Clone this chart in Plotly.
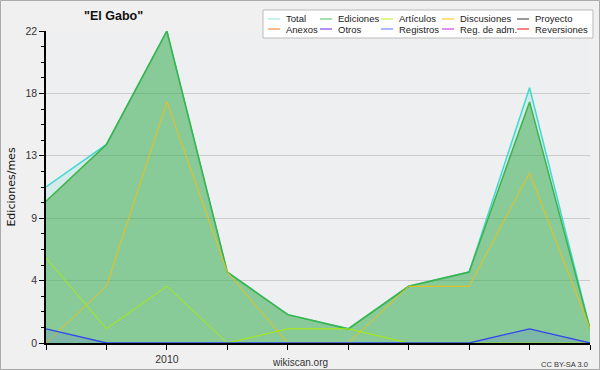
import plotly.graph_objects as go

# ---- data ----
months = ["2009-11", "2009-12", "2010-01", "2010-02", "2010-03",
          "2010-04", "2010-05", "2010-06", "2010-07", "2010-08"]
x_labels = ["", "", "2010", "", "", "", "", "", "", ""]
total = [11, 14, 22, 5, 2, 1, 4, 5, 18, 1]
ediciones = [10, 14, 22, 5, 2, 1, 4, 5, 17, 1]
articulos = [6, 1, 4, 0, 1, 1, 0, 0, 0, 0]
discusiones = [0, 4, 17, 5, 0, 0, 4, 4, 12, 1]
registros = [1, 0, 0, 0, 0, 0, 0, 0, 1, 0]

y_tickvals = [0, 4.4, 8.8, 13.2, 17.6, 22]
y_ticktext = ["0", "4", "9", "13", "18", "22"]

legend_names = ["Total", "Ediciones", "Artículos", "Discusiones", "Proyecto",
                "Anexos", "Otros", "Registros", "Reg. de adm.", "Reversiones"]
legend_colors = ["#a8e8e4", "#66cc77", "#ccee44", "#ffcc33", "#555555",
                 "#ff8844", "#8844ee", "#7788ff", "#cc44ee", "#ee3333"]

W, H = 600, 370
L, R, T, B = 46, 10, 31, 27
pw, ph = W - L - R, H - T - B

def px(x):
    return (x - L) / pw

def py(y):
    return (H - B - y) / ph

xs = list(range(len(months)))

fig = go.Figure()
fig.add_trace(go.Scatter(x=xs, y=total, mode="lines", fill="tozeroy",
                         line=dict(color="#44d8d0", width=1.5),
                         fillcolor="rgba(64,208,200,0.15)", name="Total",
                         showlegend=False))
fig.add_trace(go.Scatter(x=xs, y=ediciones, mode="lines", fill="tozeroy",
                         line=dict(color="#3cb44a", width=1.5),
                         fillcolor="rgba(60,170,70,0.5)", name="Ediciones",
                         showlegend=False))
fig.add_trace(go.Scatter(x=xs, y=discusiones, mode="lines",
                         line=dict(color="#f0c010", width=1),
                         name="Discusiones", showlegend=False))
fig.add_trace(go.Scatter(x=xs, y=articulos, mode="lines",
                         line=dict(color="#aaee00", width=1),
                         name="Artículos", showlegend=False))
fig.add_trace(go.Scatter(x=xs, y=registros, mode="lines", fill="tozeroy",
                         line=dict(color="#3344ee", width=1.3),
                         fillcolor="rgba(60,80,240,0.15)", name="Registros",
                         showlegend=False))

shapes = []
annotations = []

# figure border
shapes.append(dict(type="rect", xref="paper", yref="paper",
                   x0=px(0.5), x1=px(599.5), y0=py(369.5), y1=py(0.5),
                   line=dict(color="#aaaaaa", width=1), layer="below"))

# legend box
shapes.append(dict(type="rect", xref="paper", yref="paper",
                   x0=px(263), x1=px(593), y0=py(38), y1=py(10),
                   line=dict(color="#bbbbbb", width=1), fillcolor="white"))
col_line_x = [268, 320, 381, 442, 517]
row_y = [19, 29]
for i, (name, color) in enumerate(zip(legend_names, legend_colors)):
    r, c = divmod(i, 5)
    x0 = col_line_x[c]
    yy = row_y[r]
    shapes.append(dict(type="line", xref="paper", yref="paper",
                       x0=px(x0), x1=px(x0 + 12), y0=py(yy), y1=py(yy),
                       line=dict(color=color, width=1.2)))
    annotations.append(dict(text=name, xref="paper", yref="paper",
                            x=px(x0 + 16), y=py(yy), xanchor="left",
                            yanchor="middle", showarrow=False,
                            font=dict(family="Liberation Sans", size=9.5,
                                      color="#222222")))

# title
annotations.append(dict(text="<b>\"El Gabo\"</b>", xref="paper", yref="paper",
                        x=px(113), y=py(16), xanchor="center", yanchor="middle",
                        showarrow=False,
                        font=dict(family="Liberation Sans", size=12.5,
                                  color="#111111")))
annotations.append(dict(text="wikiscan.org", xref="paper", yref="paper",
                        x=px(300), y=py(362), xanchor="center", yanchor="middle",
                        showarrow=False,
                        font=dict(family="Liberation Sans", size=10,
                                  color="#333333")))
annotations.append(dict(text="CC BY-SA 3.0", xref="paper", yref="paper",
                        x=px(590), y=py(364), xanchor="right", yanchor="middle",
                        showarrow=False,
                        font=dict(family="Liberation Sans", size=7.5,
                                  color="#333333")))

fig.update_layout(
    width=W, height=H,
    margin=dict(l=L, r=R, t=T, b=B, pad=0, autoexpand=False),
    paper_bgcolor="#f0f0f0",
    plot_bgcolor="#eeeff1",
    showlegend=False,
    shapes=shapes,
    annotations=annotations,
    font=dict(family="Liberation Sans", size=10, color="#333333"),
)
fig.update_xaxes(
    range=[0, len(months) - 1], tickmode="array", tickvals=xs,
    ticktext=x_labels, ticks="outside", ticklen=5, tickcolor="black",
    showline=True, linecolor="black", linewidth=2, showgrid=False,
    zeroline=False, automargin=False, tickfont=dict(size=10.5, color="#333333"),
)
fig.update_yaxes(
    range=[0, 22], tickmode="array", tickvals=y_tickvals, ticktext=y_ticktext,
    ticks="outside", ticklen=5, tickcolor="black",
    showline=True, linecolor="black", linewidth=1.5,
    showgrid=True, gridcolor="#cccccc", gridwidth=1, zeroline=False,
    automargin=False, tickfont=dict(size=10.5, color="#333333"),
    minor=dict(tickmode="linear", tick0=0, dtick=1.1, ticks="outside",
               ticklen=3, tickcolor="black", showgrid=False),
    title=dict(text="Ediciones/mes", standoff=8,
               font=dict(family="DejaVu Sans", size=11, color="#111111")),
)

fig.write_html("out.html", config={"displayModeBar": False},
               post_script="document.body.style.margin='0';document.body.style.overflow='hidden';")
